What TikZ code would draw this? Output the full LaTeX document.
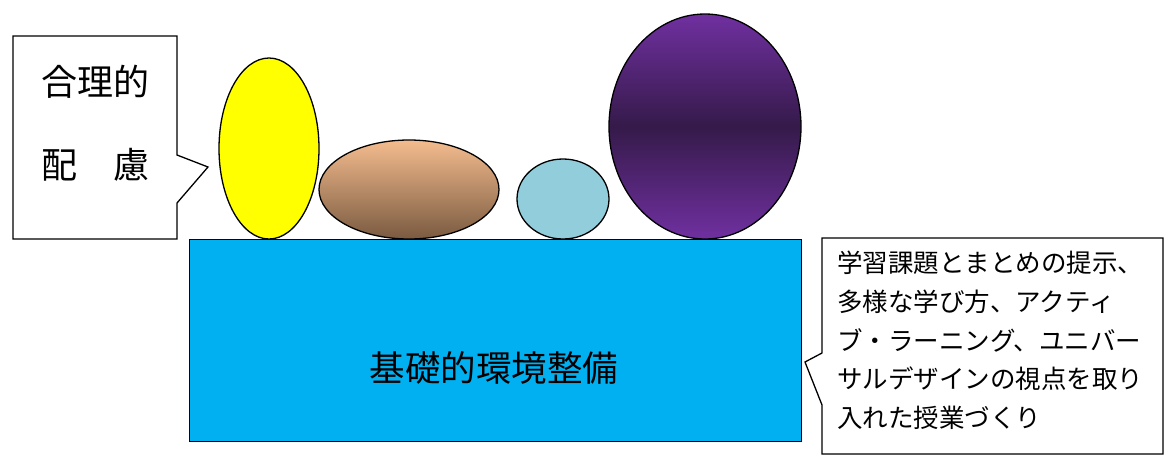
\documentclass[tikz,border=0pt]{standalone}
\usepackage{fontspec}
\newfontfamily\jp{Noto Sans CJK JP}
\usetikzlibrary{shapes.geometric}
\definecolor{ylw}{HTML}{FFFF00}
\definecolor{brtop}{HTML}{F4BC8E}
\definecolor{brbot}{HTML}{7A5A40}
\definecolor{lblue}{HTML}{92CDDC}
\definecolor{purp}{HTML}{7030A0}
\definecolor{dpurp}{HTML}{351A4A}
\definecolor{cyanbox}{HTML}{00B0F0}
\tikzset{
  outl/.style={draw=black, line width=1.3pt},
  egg/.style={outl, ellipse, inner sep=0pt},
  big/.style={font=\jp\fontsize{36}{42}\selectfont},
  small/.style={font=\jp\fontsize{25.5}{38.7}\selectfont},
}
\begin{document}
\begin{tikzpicture}[x=1pt,y=-1pt]
\useasboundingbox (0,0) rectangle (1165,456);
% base block
\node[outl, fill=cyanbox, minimum width=612pt, minimum height=202pt, inner sep=0pt, anchor=north west] (base) at (189,239) {};
\node[font=\jp\fontsize{35.5}{42}\selectfont] (basetxt) at (494,368) {基礎的環境整備};
% ellipses
\node[egg, fill=ylw, minimum width=100pt, minimum height=181pt] (yel) at (269,148.5) {};
\node[egg, top color=brtop, bottom color=brbot, minimum width=180pt, minimum height=99pt] (brn) at (409,189.5) {};
\node[egg, fill=lblue, minimum width=92pt, minimum height=80pt] (lbl) at (563,199) {};
\node[egg, top color=purp, bottom color=purp, middle color=dpurp, minimum width=192pt, minimum height=225pt] (pur) at (705,126.5) {};
% left callout
\coordinate (ltip) at (208,167);
\draw[outl, fill=white] (13,36) -- (177,36) -- (177,155) -- (ltip) -- (177,203) -- (177,239) -- (13,239) -- cycle;
\node[big] (l1) at (95.5,82) {合理的};
\node[big] (l2) at (95.5,165) {配　慮};
% right callout
\coordinate (rtip) at (805,362);
\draw[outl, fill=white] (822,238) -- (1163,238) -- (1163,454) -- (822,454) -- (822,405) -- (rtip) -- (822,353) -- cycle;
\node[small, align=left, anchor=west, inner sep=0pt] (rtxt) at (837,340.5) {学習課題とまとめの提示、\\多様な学び方、アクティ\\ブ・ラーニング、ユニバー\\サルデザインの視点を取り\\入れた授業づくり};
\end{tikzpicture}
\end{document}
